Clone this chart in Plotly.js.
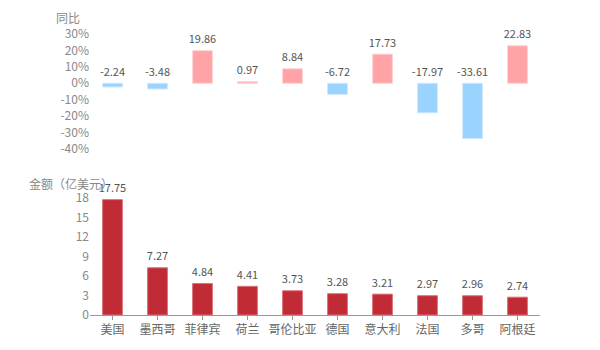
<!DOCTYPE html>
<html>
<head>
<meta charset="utf-8">
<script src="https://cdn.plot.ly/plotly-3.0.1.min.js"></script>
<style>html,body{margin:0;padding:0;background:#fff;}#chart{width:600px;height:350px;}</style>
</head>
<body>
<div id="chart"></div>
<script>
var countries = ['美国','墨西哥','菲律宾','荷兰','哥伦比亚','德国','意大利','法国','多哥','阿根廷'];
var yoy = [-2.24, -3.48, 19.86, 0.97, 8.84, -6.72, 17.73, -17.97, -33.61, 22.83];
var amount = [17.75, 7.27, 4.84, 4.41, 3.73, 3.28, 3.21, 2.97, 2.96, 2.74];
var yoyTicks = [30, 20, 10, 0, -10, -20, -30, -40];
var amountTicks = [0, 3, 6, 9, 12, 15, 18];

var FONT = '"Microsoft YaHei", "Noto Sans CJK SC", sans-serif';
var posColor = '#FFA3A6', negColor = '#99D3FE', amtColor = '#C12B35';

var traces = [
  {
    type: 'bar', x: countries, y: yoy, xaxis: 'x', yaxis: 'y',
    marker: {
      color: yoy.map(function(v){return v >= 0 ? posColor : negColor;}),
      line: {color: yoy.map(function(v){return v >= 0 ? '#FFD3D5' : '#CDE9FF';}), width: 1}
    },
    width: 0.44, hoverinfo: 'none'
  },
  {
    type: 'scatter', mode: 'markers+text', x: countries,
    y: yoy.map(function(v){return Math.max(v, 0);}),
    text: yoy.map(function(v){return v.toFixed(2);}),
    marker: {size: 6, opacity: 0},
    textposition: 'top center', xaxis: 'x', yaxis: 'y', cliponaxis: false,
    textfont: {family: FONT, size: 11, color: '#555'}, hoverinfo: 'none'
  },
  {
    type: 'bar', x: countries, y: amount, xaxis: 'x2', yaxis: 'y2',
    marker: {color: amtColor, line: {color: '#D9737A', width: 1}},
    width: 0.44, hoverinfo: 'none'
  },
  {
    type: 'scatter', mode: 'markers+text', x: countries, y: amount,
    text: amount.map(function(v){return v.toFixed(2);}),
    marker: {size: 6, opacity: 0},
    textposition: 'top center', xaxis: 'x2', yaxis: 'y2', cliponaxis: false,
    textfont: {family: FONT, size: 11, color: '#555'}, hoverinfo: 'none'
  }
];

var H = 350;
var layout = {
  width: 600, height: 350,
  margin: {l: 90, r: 60, t: 0, b: 0},
  paper_bgcolor: '#fff', plot_bgcolor: '#fff',
  showlegend: false,
  font: {family: FONT, size: 12, color: '#888'},
  bargap: 0.5,
  xaxis: {
    domain: [0, 1], anchor: 'y', type: 'category', range: [-0.5, 9.5],
    showticklabels: false, showline: false, showgrid: false, zeroline: false, ticks: ''
  },
  yaxis: {
    domain: [1 - 149/H, 1 - 34/H], anchor: 'x', range: [-40, 30],
    tickvals: yoyTicks, ticktext: yoyTicks.map(function(v){return v + '%';}),
    showgrid: false, zeroline: false, showline: false, ticks: '',
    tickfont: {family: FONT, size: 12, color: '#888'}
  },
  xaxis2: {
    domain: [0, 1], anchor: 'y2', type: 'category', range: [-0.5, 9.5],
    showline: true, linecolor: '#999', linewidth: 1, showgrid: false, zeroline: false,
    ticks: 'outside', ticklen: 4, tickcolor: '#999',
    tickfont: {family: FONT, size: 12, color: '#666'}
  },
  yaxis2: {
    domain: [1 - 315/H, 1 - 198/H], anchor: 'x2', range: [0, 18],
    tickvals: amountTicks, showgrid: false, zeroline: false, showline: false, ticks: '',
    tickfont: {family: FONT, size: 12, color: '#888'}
  },
  annotations: [
    {text: '同比', xref: 'paper', yref: 'paper', x: -0.018, y: 1 - 17/H,
     xanchor: 'right', yanchor: 'middle', showarrow: false,
     font: {family: FONT, size: 12, color: '#888'}},
    {text: '金额（亿美元）', xref: 'paper', yref: 'paper', x: -0.14, y: 1 - 183/H,
     xanchor: 'left', yanchor: 'middle', showarrow: false,
     font: {family: FONT, size: 12, color: '#888'}}
  ]
};

Plotly.newPlot('chart', traces, layout, {staticPlot: true, displayModeBar: false});
</script>
</body>
</html>
